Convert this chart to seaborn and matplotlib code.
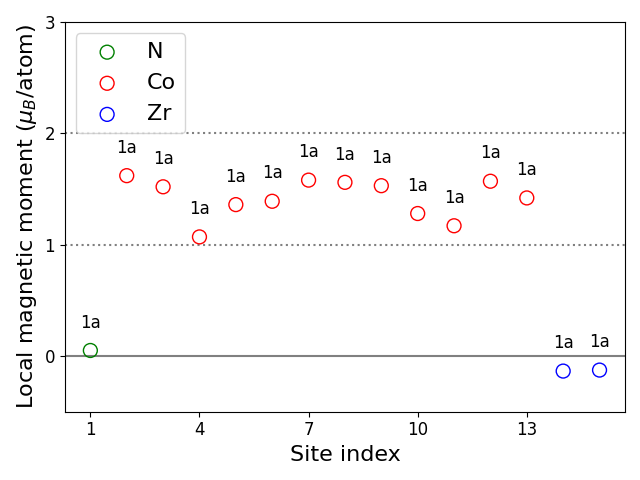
import numpy as np
import pandas as pd
import seaborn as sns
import matplotlib
matplotlib.use('Agg')
import matplotlib.pyplot as plt

# site data
site_index = list(range(1, 16))
element = ['N'] + ['Co'] * 12 + ['Zr'] * 2
moment = [0.05, 1.62, 1.52, 1.07, 1.36, 1.39, 1.58, 1.56, 1.53,
          1.28, 1.17, 1.57, 1.42, -0.135, -0.126]
wyckoff = ['1a'] * 15
colors = {'N': 'green', 'Co': 'red', 'Zr': 'blue'}

df = pd.DataFrame({'site': site_index, 'element': element,
                   'moment': moment, 'wyckoff': wyckoff})

fig, ax = plt.subplots(figsize=(6.4, 4.8), dpi=100)

ax.axhline(0, color='gray', lw=1.5, zorder=0)
ax.axhline(1, color='gray', lw=1.5, ls=':', zorder=0)
ax.axhline(2, color='gray', lw=1.5, ls=':', zorder=0)

for el in ['N', 'Co', 'Zr']:
    sub = df[df['element'] == el]
    sns.scatterplot(data=sub, x='site', y='moment', ax=ax, s=100,
                    color=colors[el], edgecolor=colors[el],
                    facecolor='none', linewidth=1, label=el)

for _, r in df.iterrows():
    ax.text(r['site'], r['moment'] + 0.25, r['wyckoff'], fontsize=12,
            ha='center', va='center')

ax.set_ylim(-0.5, 3)
ax.set_yticks([0, 1, 2, 3])
ax.set_xticks([1, 4, 7, 10, 13])
ax.tick_params(labelsize=12)
ax.set_xlabel('Site index', fontsize=16)
ax.set_ylabel(r'Local magnetic moment ($\mu_B$/atom)', fontsize=16)
ax.legend(loc='upper left', fontsize=16)

plt.tight_layout()
plt.savefig('out.png')
